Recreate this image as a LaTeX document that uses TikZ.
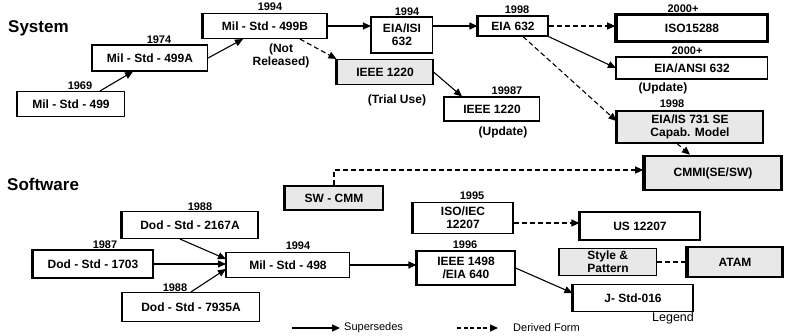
\documentclass[tikz,border=0pt]{standalone}
\usepackage{fontspec}
\setmainfont{Liberation Sans}
\usetikzlibrary{arrows.meta, positioning, calc}

\begin{document}
\begin{tikzpicture}[
		x=1pt, y=-1pt,
		font=\bfseries\fontsize{12}{13}\selectfont,
		box/.style={draw, line width=1.1pt, fill=white, inner sep=0pt, align=center,
			append after command={(\tikzlastnode.north west) edge[line width=2.6pt] (\tikzlastnode.south west)}},
		heavy/.style={line width=2.6pt},
		grey/.style={fill=black!9},
		yr/.style={inner sep=0pt, font=\bfseries\fontsize{11}{11}\selectfont},
		note/.style={inner sep=0pt, align=center},
		head/.style={inner sep=0pt, anchor=west, font=\bfseries\fontsize{17}{17}\selectfont},
		sup/.style={-{Triangle[length=8pt, width=7pt]}, line width=1.1pt},
		der/.style={sup, dash pattern=on 5pt off 3pt}
		]
		
		\useasboundingbox (0,0) rectangle (785,335);
		
		% Section headings
		\node[head] (sys) at (8,28) {System};
		\node[head] (sw) at (7,184) {Software};
		
		% System track
		\node[box, minimum width=107pt, minimum height=25pt] (m499) at (71,104) {Mil - Std - 499};
		\node[yr] at (80,86) {1969};
		\node[box, minimum width=115pt, minimum height=26pt] (m499a) at (150,58) {Mil - Std - 499A};
		\node[yr] at (159,40) {1974};
		\node[box, minimum width=124pt, minimum height=25pt] (m499b) at (265,26) {Mil - Std - 499B};
		\node[yr] at (270,7) {1994};
		\node[note] at (281,56) {(Not\\Released)};
		
		\node[box, minimum width=61pt, minimum height=36pt] (eiaisi) at (402,35) {EIA/ISI\\632};
		\node[yr] at (407,12) {1994};
		\node[box, minimum width=70pt, minimum height=20pt] (eia632) at (513,26) {EIA 632};
		\node[yr] at (517,10) {1998};
		
		\node[box, heavy, minimum width=151pt, minimum height=27pt] (iso15288) at (692,28) {ISO15288};
		\node[yr] at (683,9) {2000+};
		\node[box, minimum width=151pt, minimum height=22pt] (ansi632) at (692,68) {EIA/ANSI 632};
		\node[yr] at (687,51) {2000+};
		\node[note] at (663,88) {(Update)};
		\node[box, grey, minimum width=146pt, minimum height=32pt] (eia731) at (690,127) {EIA/IS 731 SE\\Capab. Model};
		\node[yr] at (672,104) {1998};
		\node[box, grey, heavy, minimum width=137pt, minimum height=34pt] (cmmi) at (713,173) {CMMI(SE/SW)};
		
		% IEEE 1220 branch
		\node[box, grey, minimum width=96pt, minimum height=25pt] (ieee1220) at (385,72) {IEEE 1220};
		\node[note] at (397,100) {(Trial Use)};
		\node[box, minimum width=95pt, minimum height=24pt] (ieee1220u) at (492,109) {IEEE 1220};
		\node[yr] at (507,91) {19987};
		\node[note] at (503,132) {(Update)};
		
		% Software track
		\node[box, minimum width=120pt, minimum height=28pt] (d1703) at (93,264) {Dod - Std - 1703};
		\node[yr] at (105,245) {1987};
		\node[box, minimum width=136pt, minimum height=27pt] (d2167) at (190,225) {Dod - Std - 2167A};
		\node[yr] at (200,207) {1988};
		\node[box, minimum width=137pt, minimum height=29pt] (d7935) at (191,307) {Dod - Std - 7935A};
		\node[yr] at (175,288) {1988};
		\node[box, minimum width=123pt, minimum height=25pt] (m498) at (288,265) {Mil - Std - 498};
		\node[yr] at (298,246) {1994};
		
		\node[box, grey, line width=1.8pt, minimum width=98pt, minimum height=24pt] (swcmm) at (334,198) {SW - CMM};
		\node[box, minimum width=100pt, minimum height=31pt] (iso12207) at (463,218) {ISO/IEC\\12207};
		\node[yr] at (472,196) {1995};
		\node[box, minimum width=98pt, minimum height=34pt] (ieee1498) at (466,268) {IEEE 1498\\/EIA 640};
		\node[yr] at (465,245) {1996};
		
		\node[box, minimum width=120pt, minimum height=28pt] (us12207) at (640,226) {US 12207};
		\node[box, grey, minimum width=97pt, minimum height=27pt, align=left] (style) at (608,262) {Style \&\\Pattern};
		\node[box, grey, heavy, minimum width=95pt, minimum height=30pt] (atam) at (735,262) {ATAM};
		\node[box, minimum width=120pt, minimum height=27pt] (jstd) at (633,298) {J- Std-016};
		\node[note, font=\mdseries\fontsize{12.5}{12.5}\selectfont] (leg) at (673,318) {Legend};
		
		% Supersedes links (system)
		\draw[sup] ([xshift=29pt]m499.north) -- ([xshift=-17pt]m499a.south);
		\draw[sup] (m499a.east) -- ([xshift=-22pt]m499b.south);
		\draw[sup] (m499b.east) -- (m499b.east -| eiaisi.west);
		\draw[sup] (eia632.west -| eiaisi.east) -- (eia632.west);
		\draw[sup] (eia632.south east) -- (ansi632.west);
		\draw[sup] (ieee1220.east) -- ([xshift=-30pt]ieee1220u.north);
		
		% Derived links (system)
		\draw[der] (eia632.east) -- (eia632.east -| iso15288.west);
		\draw[der] ([xshift=10pt]eia632.south) -- ([yshift=6pt]eia731.west);
		\draw[der] ([xshift=35pt]m499b.south) -- (ieee1220.north west);
		\draw[der] ([xshift=-13pt]eia731.south) -- ([xshift=-23pt]cmmi.north);
		
		% Supersedes links (software)
		\draw[sup] (d1703.east) -- (d1703.east -| m498.west);
		\draw[sup] ([xshift=-10pt]d2167.south) -- ([yshift=6pt]m498.west);
		\draw[sup] (d7935.north) -- ([yshift=-4pt]m498.west);
		\draw[sup] (m498.east) -- (m498.east -| ieee1498.west);
		\draw[sup] (ieee1498.east) -- ([yshift=5pt]jstd.west);
		
		% Derived links (software)
		\draw[der] (swcmm.north) |- ([yshift=3pt]cmmi.west);
		\draw[der] ([yshift=3pt]us12207.west -| iso12207.east) -- ([yshift=3pt]us12207.west);
		\draw[line width=1.1pt, dash pattern=on 5pt off 3pt] (style.east) -- (atam.west);
		
		% Legend
		\coordinate (sa) at (292,328);
		\coordinate (sb) at (340,328);
		\coordinate (da) at (457,328);
		\coordinate (db) at (498,328);
		\draw[sup] (sa) -- (sb);
		\draw[der, dash pattern=on 4pt off 2.5pt] (da) -- (db);
		\node[anchor=west, inner sep=0pt, font=\mdseries\fontsize{11}{11}\selectfont] (ls) at (344,328) {Supersedes};
		\node[anchor=west, inner sep=0pt, font=\mdseries\fontsize{11}{11}\selectfont] (ld) at (513,328) {Derived Form};
		
	\end{tikzpicture}
\end{document}
